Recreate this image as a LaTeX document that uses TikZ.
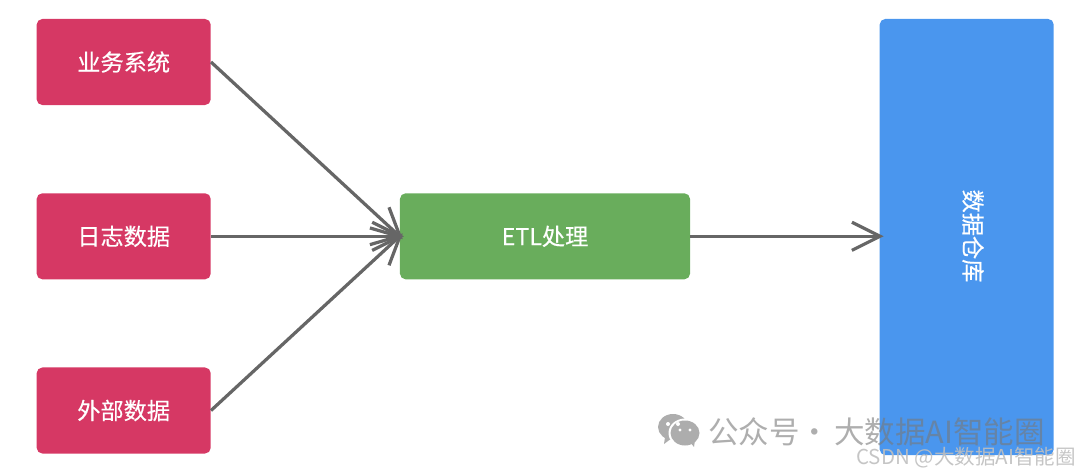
\documentclass[tikz,border=0pt]{standalone}
\usepackage{fontspec}
\setmainfont{Noto Sans CJK SC}
\newfontfamily\boxfont[FakeBold=0.35]{Noto Sans CJK SC}
\usetikzlibrary{arrows.meta}
\definecolor{cRed}{RGB}{214,56,100}
\definecolor{cGreen}{RGB}{105,173,92}
\definecolor{cBlue}{RGB}{74,150,238}
\definecolor{cLine}{RGB}{102,102,102}
\definecolor{cMark}{RGB}{120,120,120}
\newcommand{\boxtext}[1]{\raisebox{0.7pt}{#1}}
\tikzset{
  basebox/.style={rectangle,rounded corners=4pt,align=center,text=white,
                  font=\boxfont\fontsize{16.5}{20}\selectfont,inner sep=0pt},
  srcnode/.style={basebox,fill=cRed,minimum width=4.35cm,minimum height=2.15cm},
  etlnode/.style={basebox,fill=cGreen,minimum width=7.25cm,minimum height=2.15cm},
  dwnode/.style={basebox,fill=cBlue,minimum width=4.35cm,minimum height=10.9cm},
  arr/.style={-{Straight Barb[length=20pt,width=20pt]},line width=2.3pt,color=cLine,shorten >=-3pt},
  marktext/.style={font=\fontsize{21.7}{24}\selectfont,text=cMark,opacity=0.6,inner sep=0pt},
  csdntext/.style={font=\fontsize{14.6}{16}\selectfont,text=black!25,opacity=0.9,inner sep=0pt}
}
\begin{document}
\begin{tikzpicture}[x=0.025cm,y=-0.025cm]
  \useasboundingbox (0,0) rectangle (1080,475);

  % Sources
  \node[srcnode] (biz) at (123.7,62)  {\boxtext{业务系统}};
  \node[srcnode] (log) at (123.7,236.3) {\boxtext{日志数据}};
  \node[srcnode] (ext) at (123.7,410.5) {\boxtext{外部数据}};

  % ETL and warehouse
  \node[etlnode] (etl) at (545,236.3) {\boxtext{ETL处理}};
  \node[dwnode]  (dw)  at (966.7,237) {};
  \node[basebox,rotate=-90] (dwtext) at (973,236) {\boxtext{数据仓库}};

  % Connectors
  \draw[arr] (biz.east) -- (etl.west);
  \draw[arr] (log.east) -- (etl.west);
  \draw[arr] (ext.east) -- (etl.west);
  \draw[arr] (etl.east) -- (etl.east -| dw.west);

  % Watermarks
  \fill[black!32] (673,427) ellipse (15 and 13);
  \fill[black!32] (665,437) -- (664,444) -- (672,438) -- cycle;
  \fill[white] (685,433) ellipse (16.5 and 14.5);
  \fill[black!32] (685,433) ellipse (14.5 and 12.5);
  \fill[black!32] (690,442) -- (694,447) -- (695,440) -- cycle;
  \fill[white] (668,424) circle (2) (678,424) circle (2) (680,430) circle (1.7) (690,430) circle (1.7);
  \node[marktext,anchor=west] (mark) at (708,432) {公众号};
  \node[marktext] (markdot) at (815,436) {·};
  \node[marktext,anchor=east] (markname) at (1045,432) {大数据AI智能圈};
  \node[csdntext,anchor=east] (csdn) at (1076,458) {CSDN @大数据AI智能圈};
\end{tikzpicture}
\end{document}
